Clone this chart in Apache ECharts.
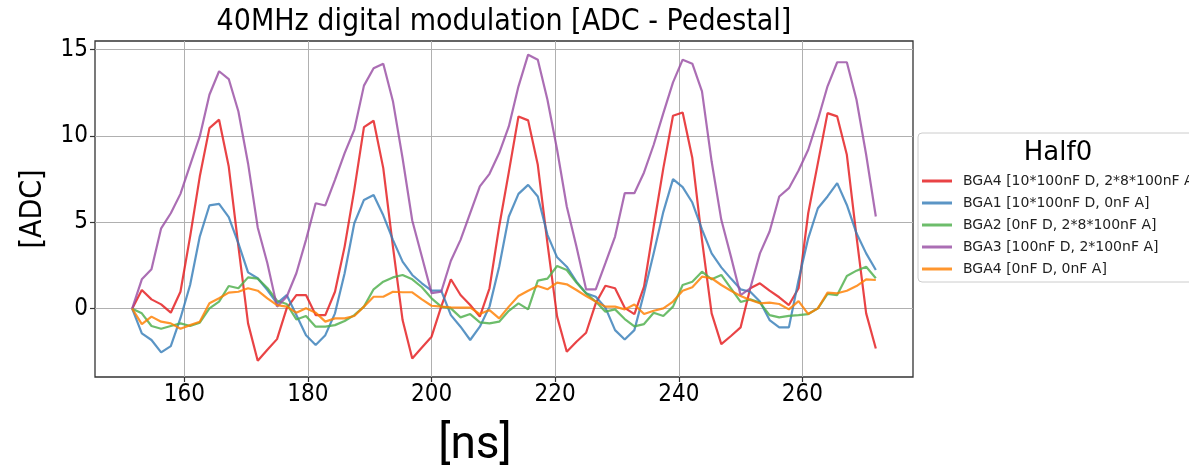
<!DOCTYPE html>
<html>
<head>
<meta charset="utf-8">
<script src="https://cdn.jsdelivr.net/npm/echarts@6/dist/echarts.min.js"></script>
<style>
  html, body { margin: 0; padding: 0; background: #ffffff; }
  #chart { width: 1189px; height: 472px; }
</style>
</head>
<body>
<div id="chart"></div>
<script>
const chartTitle = '40MHz digital modulation [ADC - Pedestal]';
const xName = '[ns]';
const yName = '[ADC]';
const legendTitle = 'Half0';

const xTicks = [160, 180, 200, 220, 240, 260];
const yTicks = [0, 5, 10, 15];

const timeNs = [151.5625,153.125,154.6875,156.25,157.8125,159.375,160.9375,162.5,164.0625,165.625,
  167.1875,168.75,170.3125,171.875,173.4375,175,176.5625,178.125,179.6875,181.25,
  182.8125,184.375,185.9375,187.5,189.0625,190.625,192.1875,193.75,195.3125,196.875,
  198.4375,200,201.5625,203.125,204.6875,206.25,207.8125,209.375,210.9375,212.5,
  214.0625,215.625,217.1875,218.75,220.3125,221.875,223.4375,225,226.5625,228.125,
  229.6875,231.25,232.8125,234.375,235.9375,237.5,239.0625,240.625,242.1875,243.75,
  245.3125,246.875,248.4375,250,251.5625,253.125,254.6875,256.25,257.8125,259.375,
  260.9375,262.5,264.0625,265.625,267.1875,268.75,270.3125,271.875];

const seriesNames = [
  'BGA4 [10*100nF D, 2*8*100nF A]',
  'BGA1 [10*100nF D, 0nF A]',
  'BGA2 [0nF D, 2*8*100nF A]',
  'BGA3 [100nF D, 2*100nF A]',
  'BGA4 [0nF D, 0nF A]'
];

const bga4Full = [0,1.08,0.54,0.25,-0.23,0.98,4.17,7.64,10.44,10.93,
  8.22,3.6,-0.85,-3.01,-2.37,-1.76,0.02,0.79,0.79,-0.37,
  -0.37,0.98,3.59,6.87,10.5,10.87,8.13,3.59,-0.66,-2.88,
  -2.24,-1.62,0.12,1.7,0.79,0.21,-0.46,1.18,4.75,7.9,
  11.12,10.89,8.32,3.78,-0.46,-2.49,-1.91,-1.39,0.31,1.33,
  1.18,0.05,-0.31,1.27,4.75,8.13,11.16,11.35,8.71,3.98,
  -0.27,-2.05,-1.58,-1.08,1.18,1.47,1.04,0.66,0.21,1.18,
  5.52,8.42,11.31,11.12,8.9,4.17,-0.27,-2.3];

const bga1 = [0,-1.43,-1.81,-2.53,-2.16,-0.55,1.37,4.17,5.97,6.06,
  5.29,3.78,2.1,1.76,1.08,0.31,0.79,-0.37,-1.53,-2.1,
  -1.53,-0.27,2.05,4.94,6.29,6.58,5.4,3.98,2.72,1.95,
  1.47,1.04,1.04,-0.37,-1.04,-1.81,-1.04,0.12,2.43,5.33,
  6.64,7.16,6.49,4.27,2.97,2.43,1.56,0.89,0.69,0.06,
  -1.24,-1.78,-1.24,0.89,3.2,5.6,7.49,7.03,6.14,4.59,
  3.2,2.39,1.74,1.12,0.98,0.41,-0.66,-1.08,-1.08,1.66,
  4.07,5.81,6.49,7.26,6.0,4.36,3.2,2.24];

const bga2 = [0,-0.27,-1.0,-1.16,-1.0,-0.85,-1.0,-0.81,0.02,0.41,
  1.31,1.18,1.81,1.74,1.2,0.46,0.27,-0.62,-0.42,-1.04,
  -1.04,-0.95,-0.71,-0.37,0.12,1.12,1.56,1.81,1.95,1.7,
  1.24,0.6,0.12,0.02,-0.5,-0.31,-0.79,-0.85,-0.75,-0.12,
  0.31,-0.04,1.62,1.74,2.47,2.24,1.51,0.89,0.41,-0.17,
  -0.04,-0.6,-1.02,-0.89,-0.23,-0.42,0.12,1.37,1.56,2.14,
  1.7,1.95,1.18,0.39,0.54,0.35,-0.37,-0.5,-0.42,-0.37,
  -0.31,0.02,0.85,0.79,1.89,2.2,2.43,1.76];

const bga3 = [0,1.7,2.28,4.65,5.52,6.64,8.3,9.96,12.37,13.73,
  13.28,11.4,8.4,4.7,2.63,0.12,0.69,2.05,3.98,6.1,
  5.97,7.45,9.0,10.35,12.9,13.9,14.17,12.0,8.7,5.1,
  3.0,0.9,0.98,2.77,3.98,5.52,7.07,7.8,9.0,10.54,
  12.86,14.69,14.4,12.08,9.19,5.91,3.59,1.12,1.12,2.63,
  4.17,6.68,6.68,7.88,9.48,11.31,13.09,14.4,14.17,12.57,
  8.51,5.14,3.01,0.79,1.18,3.2,4.46,6.49,6.97,7.99,
  9.19,10.93,12.86,14.25,14.25,12.08,8.9,5.33];

const bga4Empty = [0,-0.89,-0.46,-0.75,-0.85,-1.16,-0.95,-0.75,0.31,0.6,
  0.93,0.98,1.18,1.04,0.6,0.21,0.12,-0.23,0.02,-0.23,
  -0.75,-0.56,-0.56,-0.42,0.12,0.69,0.69,0.98,0.95,0.95,
  0.54,0.17,0.12,0.08,0.06,0.06,-0.31,-0.08,-0.56,0.12,
  0.73,1.04,1.31,1.12,1.51,1.41,1.08,0.73,0.41,0.12,
  0.12,-0.04,0.24,-0.31,-0.12,0.02,0.41,1.04,1.24,1.85,
  1.76,1.37,1.04,0.73,0.5,0.31,0.35,0.27,-0.04,0.44,
  -0.31,0.02,0.93,0.89,1.04,1.31,1.7,1.66];

const seriesValues = [bga4Full, bga1, bga2, bga3, bga4Empty];
const seriesColors = ['#e41a1c', '#377eb8', '#4daf4a', '#984ea3', '#ff7f00'];

const condensed = '"DejaVu Sans Condensed", "DejaVu Sans", sans-serif';
const regular = '"DejaVu Sans", sans-serif';

const chart = echarts.init(document.getElementById('chart'), null, { renderer: 'canvas' });

const series = seriesValues.map((vals, si) => ({
  name: seriesNames[si],
  type: 'line',
  data: timeNs.map((t, i) => [t, vals[i]]),
  symbol: 'none',
  showSymbol: false,
  color: seriesColors[si],
  lineStyle: { width: 2.2, color: seriesColors[si], opacity: 0.82 },
  itemStyle: { color: seriesColors[si], opacity: 0.82 },
  z: 2 + si
}));

chart.setOption({
  animation: false,
  backgroundColor: '#ffffff',
  title: [
    {
      text: chartTitle,
      left: 504, top: 7, textAlign: 'center', padding: 0,
      textStyle: { fontFamily: condensed, fontSize: 30, fontWeight: 'normal', color: '#000' }
    },
    {
      text: xName,
      left: 475, top: 423, textAlign: 'center', padding: 0,
      textStyle: { fontFamily: 'Roboto, sans-serif', fontSize: 46, fontWeight: 'normal', color: '#000' }
    },
    {
      text: legendTitle,
      left: 1058, top: 140, textAlign: 'center', padding: 0, z: 10,
      textStyle: { fontFamily: regular, fontSize: 26, fontWeight: 'normal', color: '#000' }
    }
  ],
  grid: {
    left: 95, right: 276, top: 41, bottom: 95,
    show: true, borderColor: '#333', borderWidth: 1.3, backgroundColor: 'transparent'
  },
  legend: {
    orient: 'vertical',
    left: 918, top: 133,
    padding: [41, 8, 6, 4],
    icon: 'rect',
    itemWidth: 30, itemHeight: 3, itemGap: 8,
    itemStyle: { opacity: 0.82 },
    borderColor: '#cccccc', borderWidth: 1, borderRadius: 4,
    backgroundColor: 'rgba(255,255,255,0.85)',
    data: seriesNames,
    textStyle: { fontFamily: regular, fontSize: 14, color: '#222', lineHeight: 14, height: 14, padding: [0, 0, 0, 6] }
  },
  xAxis: {
    type: 'value',
    min: 145.55, max: 277.89,
    axisLine: { show: false, onZero: false },
    axisTick: { show: true, inside: false, length: 5, customValues: xTicks, lineStyle: { color: '#333', width: 1.2 } },
    axisLabel: { customValues: xTicks, margin: 6, fontFamily: condensed, fontSize: 24, color: '#000' },
    splitLine: { show: true, lineStyle: { color: '#b0b0b0', width: 1 } }
  },
  yAxis: {
    type: 'value',
    min: -3.95, max: 15.48,
    name: yName,
    nameLocation: 'middle',
    nameRotate: 90,
    nameGap: 47,
    nameTextStyle: { fontFamily: condensed, fontSize: 30, color: '#000' },
    axisLine: { show: false, onZero: false },
    axisTick: { show: true, inside: false, length: 5, customValues: yTicks, lineStyle: { color: '#333', width: 1.2 } },
    axisLabel: { customValues: yTicks, margin: 7, fontFamily: condensed, fontSize: 24, color: '#000' },
    splitLine: { show: true, lineStyle: { color: '#b0b0b0', width: 1 } }
  },
  series: series
});
</script>
</body>
</html>
